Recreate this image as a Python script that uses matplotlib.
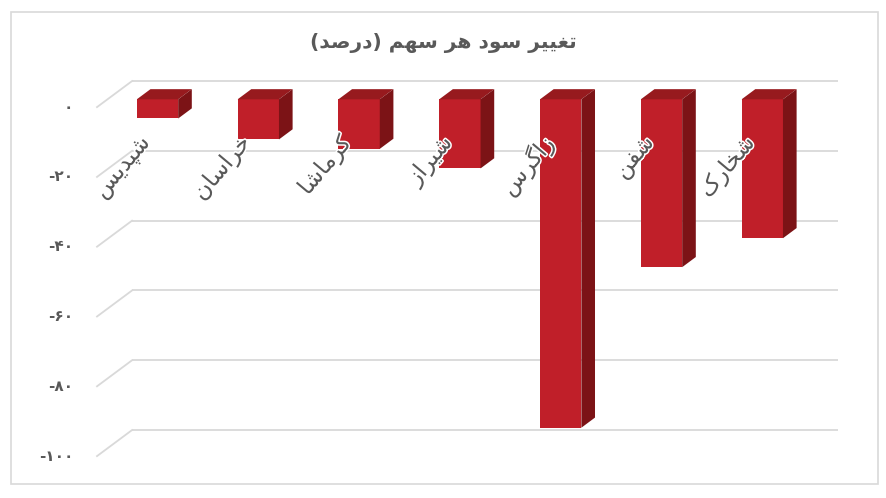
import matplotlib
matplotlib.use("Agg")
import matplotlib.pyplot as plt
import matplotlib.patheffects as pe
from matplotlib.patches import Polygon, Rectangle

# ---------------- data ----------------
title_text = "تغییر سود هر سهم (درصد)"
categories = ["شپدیس", "خراسان", "کرماشا", "شیراز", "زاگرس", "شفن", "شخارک"]
values = [-5.5, -11.5, -14.2, -19.8, -94.1, -48.1, -39.8]
tick_values = [0, -20, -40, -60, -80, -100]

# ---------------- minimal Arabic/Persian shaping ----------------
FORMS = {
    'ا': ('\uFE8D', '\uFE8E', None, None),
    'ب': ('\uFE8F', '\uFE90', '\uFE91', '\uFE92'),
    'پ': ('\uFB56', '\uFB57', '\uFB58', '\uFB59'),
    'ت': ('\uFE95', '\uFE96', '\uFE97', '\uFE98'),
    'ث': ('\uFE99', '\uFE9A', '\uFE9B', '\uFE9C'),
    'ج': ('\uFE9D', '\uFE9E', '\uFE9F', '\uFEA0'),
    'ح': ('\uFEA1', '\uFEA2', '\uFEA3', '\uFEA4'),
    'خ': ('\uFEA5', '\uFEA6', '\uFEA7', '\uFEA8'),
    'د': ('\uFEA9', '\uFEAA', None, None),
    'ذ': ('\uFEAB', '\uFEAC', None, None),
    'ر': ('\uFEAD', '\uFEAE', None, None),
    'ز': ('\uFEAF', '\uFEB0', None, None),
    'س': ('\uFEB1', '\uFEB2', '\uFEB3', '\uFEB4'),
    'ش': ('\uFEB5', '\uFEB6', '\uFEB7', '\uFEB8'),
    'ص': ('\uFEB9', '\uFEBA', '\uFEBB', '\uFEBC'),
    'ع': ('\uFEC9', '\uFECA', '\uFECB', '\uFECC'),
    'غ': ('\uFECD', '\uFECE', '\uFECF', '\uFED0'),
    'ف': ('\uFED1', '\uFED2', '\uFED3', '\uFED4'),
    'ق': ('\uFED5', '\uFED6', '\uFED7', '\uFED8'),
    'ک': ('\uFB8E', '\uFB8F', '\uFB90', '\uFB91'),
    'گ': ('\uFB92', '\uFB93', '\uFB94', '\uFB95'),
    'ل': ('\uFEDD', '\uFEDE', '\uFEDF', '\uFEE0'),
    'م': ('\uFEE1', '\uFEE2', '\uFEE3', '\uFEE4'),
    'ن': ('\uFEE5', '\uFEE6', '\uFEE7', '\uFEE8'),
    'ه': ('\uFEE9', '\uFEEA', '\uFEEB', '\uFEEC'),
    'و': ('\uFEED', '\uFEEE', None, None),
    'ی': ('\uFBFC', '\uFBFD', '\uFBFE', '\uFBFF'),
}
MIRROR = {'(': ')', ')': '('}


def shape(s):
    out = []
    n = len(s)
    for k, c in enumerate(s):
        if c not in FORMS:
            out.append(c)
            continue
        prev = s[k - 1] if k > 0 else None
        nxt = s[k + 1] if k + 1 < n else None
        jp = prev in FORMS and FORMS[prev][2] is not None
        jn = nxt in FORMS and FORMS[c][2] is not None
        iso, fin, ini, med = FORMS[c]
        if jp and jn:
            out.append(med)
        elif jp:
            out.append(fin)
        elif jn:
            out.append(ini)
        else:
            out.append(iso)
    vis = ''.join(out)[::-1]
    return ''.join(MIRROR.get(ch, ch) for ch in vis)


PDIG = str.maketrans("0123456789", "۰۱۲۳۴۵۶۷۸۹")


def fmt_tick(v):
    s = str(abs(int(v))).translate(PDIG)
    return ("-" + s) if v < 0 else s


# ---------------- figure ----------------
W, H = 886, 498
fig = plt.figure(figsize=(W / 100, H / 100), dpi=100)
fig.patch.set_facecolor("white")
fig.patches.append(Rectangle((11 / W, 1 - 484 / H), (878 - 11) / W, (484 - 12) / H,
                             transform=fig.transFigure, fill=False,
                             edgecolor="#D9D9D9", lw=1.2))

# axes: x in category units (100.8 px), y in value units (3.49 px)
x0_px, x1_px, y0_px, y1_px = 80, 860, 60, 470
ax = fig.add_axes([x0_px / W, 1 - y1_px / H, (x1_px - x0_px) / W, (y1_px - y0_px) / H])
ax.set_xlim((x0_px - 157.5) / 100.8, (x1_px - 157.5) / 100.8)
ax.set_ylim((99.3 - y1_px) / 3.49, (99.3 - y0_px) / 3.49)
ax.axis("off")

DX, DY = 0.347, 7.45          # full depth offset (front axis plane -> back wall)
D_BAR_FRONT, D_BAR_BACK = 0.30, 0.69
x_left_front = -0.600
x_right_back = 6.75
grid_c = "#D9D9D9"
txt_c = "#595959"

# back wall gridlines + floor/side diagonals
for t in tick_values:
    yb = t + (1 - D_BAR_FRONT) * DY
    yf = t - D_BAR_FRONT * DY
    xb = x_left_front + DX
    ax.plot([xb, x_right_back], [yb, yb], color=grid_c, lw=1.3, zorder=1,
            solid_capstyle="butt")
    ax.plot([x_left_front, xb], [yf, yb], color=grid_c, lw=1.3, zorder=1)
    ax.text(-0.838, yf, fmt_tick(t), ha="right", va="center", fontsize=11,
            fontweight="bold", color=txt_c, family="DejaVu Sans")

# bars
bw = 0.41
bx = (D_BAR_BACK - D_BAR_FRONT) * DX
by = (D_BAR_BACK - D_BAR_FRONT) * DY
front_c, top_c, side_c = "#C01F29", "#971A1E", "#7C1316"
xs = list(range(len(values)))
ax.bar(xs, values, width=bw, color=front_c, zorder=3, linewidth=0)
for i, v in zip(xs, values):
    l, r = i - bw / 2, i + bw / 2
    ax.add_patch(Polygon([(l, 0), (r, 0), (r + bx, by), (l + bx, by)],
                         closed=True, facecolor=top_c, edgecolor="none", zorder=3))
    ax.add_patch(Polygon([(r, 0), (r + bx, by), (r + bx, v + by), (r, v)],
                         closed=True, facecolor=side_c, edgecolor="none", zorder=3))

# category labels
for i, name in zip(xs, categories):
    ax.text(i - 0.11, -11.5, shape(name), rotation=50, rotation_mode="anchor",
            ha="right", va="center", fontsize=16.5, color=txt_c,
            family="DejaVu Sans", zorder=5,
            path_effects=[pe.withStroke(linewidth=2.2, foreground="white")])

# title
fig.text(443 / W, 1 - 43 / H, shape(title_text), ha="center", va="center",
         fontsize=14.5, fontweight="bold", color=txt_c, family="DejaVu Sans")

fig.savefig("out.png", dpi=100, facecolor="white")
